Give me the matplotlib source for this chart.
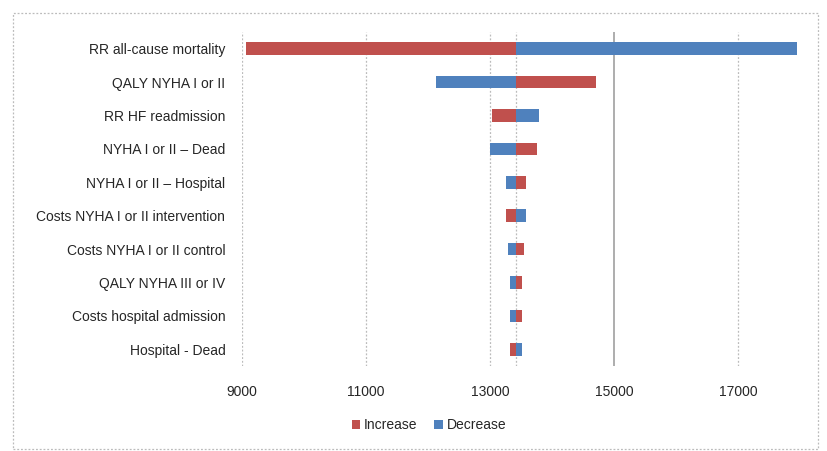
import matplotlib
matplotlib.use("Agg")
import matplotlib.pyplot as plt
from matplotlib.patches import Rectangle

categories = ["RR all-cause mortality", "QALY NYHA I or II", "RR HF readmission",
              "NYHA I or II \u2013 Dead", "NYHA I or II \u2013 Hospital",
              "Costs NYHA I or II intervention", "Costs NYHA I or II control",
              "QALY NYHA III or IV", "Costs hospital admission", "Hospital - Dead"]
base_value = 13420
increase = [9070, 14710, 13030, 13760, 13580, 13260, 13550, 13520, 13520, 13320]
decrease = [17950, 12130, 13790, 13000, 13260, 13580, 13290, 13320, 13320, 13520]
xticks = [9000, 11000, 13000, 15000, 17000]

red = "#C0504D"
blue = "#4F81BD"
txt = "#262626"

plt.rcParams['font.family'] = ['Liberation Sans', 'DejaVu Sans']
fig = plt.figure(figsize=(8.28, 4.51), dpi=100)
ax = fig.add_axes([242/828, 1-366/451, (800-242)/828, (366-32)/451])

ypos = list(range(len(categories)))
h = 0.38
inc_left = [min(v, base_value) for v in increase]
inc_w = [abs(v - base_value) for v in increase]
dec_left = [min(v, base_value) for v in decrease]
dec_w = [abs(v - base_value) for v in decrease]
ax.barh(ypos, inc_w, left=inc_left, height=h, color=red, label="Increase", zorder=3)
ax.barh(ypos, dec_w, left=dec_left, height=h, color=blue, label="Decrease", zorder=3)

ax.set_xlim(9000, 18000)
ax.set_ylim(len(categories) - 0.5, -0.5)
ax.set_xticks(xticks)
ax.set_xticklabels([str(t) for t in xticks], fontsize=10, color=txt)
ax.set_yticks(ypos)
ax.set_yticklabels(categories, fontsize=10, color=txt)
ax.tick_params(length=0)
ax.tick_params(axis='y', pad=12)
ax.tick_params(axis='x', pad=14)
for t in xticks:
    if t == 15000:
        ax.axvline(t, color="#A0A0A0", lw=1.2, zorder=1)
    else:
        ax.axvline(t, color="#BBBBBB", lw=0.9, ls=(0, (1.5, 1.5)), zorder=1)
ax.axvline(base_value, color="#BBBBBB", lw=0.9, ls=(0, (1.5, 1.5)), zorder=1)
for s in ax.spines.values():
    s.set_visible(False)

leg = fig.legend(loc="center", bbox_to_anchor=(429/828, 1-425/451), ncol=2, frameon=False,
                 fontsize=10, handlelength=0.6, handleheight=0.6, columnspacing=1.2,
                 handletextpad=0.3, labelcolor=txt)

fig.patches.append(Rectangle((13/828, 1-449/451), (818-13)/828, (449-13)/451,
                             transform=fig.transFigure, fill=False,
                             edgecolor="#BBBBBB", lw=0.9, ls=(0, (1.5, 1.5))))
fig.savefig("out.png", dpi=100)
